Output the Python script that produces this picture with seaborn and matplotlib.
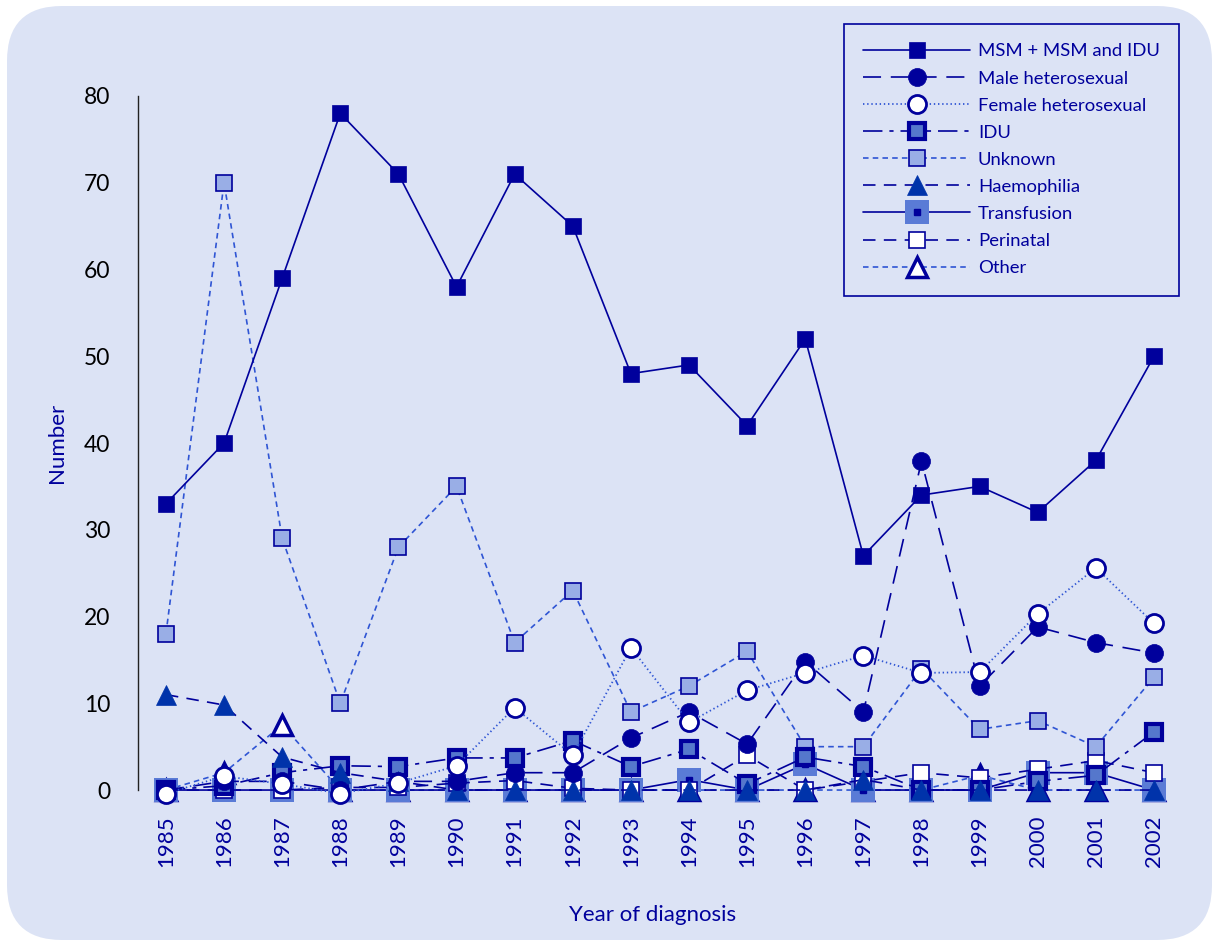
import numpy as np
import pandas as pd
import matplotlib
matplotlib.use('Agg')
import matplotlib.pyplot as plt
from matplotlib.patches import FancyBboxPatch
from matplotlib.transforms import IdentityTransform
from matplotlib.legend_handler import HandlerTuple
import seaborn as sns

years = list(range(1985, 2003))
msm = [33, 40, 59, 78, 71, 58, 71, 65, 48, 49, 42, 52, 27, 34, 35, 32, 38, 50]
male_het = [0, 1, 1, 0, 1, 1, 2, 2, 6, 9, 5.3, 14.8, 9, 37.9, 12, 18.8, 17, 15.8]
female_het = [-0.4, 1.6, 0.7, -0.4, 0.8, 2.8, 9.5, 4, 16.4, 7.8, 11.5, 13.5, 15.5, 13.5, 13.6, 20.3, 25.6, 19.2]
idu = [0, 0.5, 2, 2.8, 2.7, 3.7, 3.7, 5.7, 2.7, 4.7, 0.7, 3.8, 2.7, 0, 0, 1, 1.7, 6.7]
unknown = [18, 70, 29, 10, 28, 35, 17, 23, 9, 12, 16, 5, 5, 14, 7, 8, 5, 13]
haemophilia = [11, 9.8, 3.8, 2, 1, 0, 0, 0, 0, 0, 0, 0, 1.2, 0, 0, 0, 0, 0]
transfusion = [0, 0, 0, 0, 0, 0, 0, 0, 0, 1.2, 0, 3, 0, 0, 0, 2, 2, 0]
perinatal = [0, 0, 0, 0.3, 0.3, 0.8, 1.1, 0.2, 0, 0, 4, 0, 1, 2, 1.4, 2.4, 3.4, 2]
other = [0, 2, 7.5, 0, 0, 0, 0, 0, 0, 0, 0, 0, 0, 0, 1.7, 0, 0, 0]

navy = '#00009c'
blue = '#2f55d4'
bg = '#dce3f5'

sns.set_style('white')
plt.rcParams['font.family'] = ['Lato', 'DejaVu Sans']
plt.rcParams['lines.scale_dashes'] = False

fig = plt.figure(figsize=(12.14, 9.43), dpi=100)
fig.patch.set_facecolor('white')
# rounded panel behind everything, in pixel units
fig.add_artist(FancyBboxPatch((7, 3), 1205, 934, boxstyle='round,pad=0,rounding_size=55',
                              transform=IdentityTransform(), facecolor=bg, edgecolor='none', zorder=-10))
ax = fig.add_axes([0.1137, 0.1622, 0.8608, 0.736])
ax.set_facecolor('none')

def draw(vals, z, **kw):
    sns.lineplot(x=years, y=vals, ax=ax, errorbar=None, zorder=z, **kw)
    ln = ax.lines[-1]
    ln.set_clip_on(False)
    return ln

h_other = draw(other, 2, color=blue, linewidth=1.2, linestyle=(0, (4, 3)), marker='^', markersize=14,
               markerfacecolor='white', markeredgecolor=navy, markeredgewidth=2.5)
h_tr = draw(transfusion, 3, color=navy, linewidth=1.2, linestyle='-', marker='s', markersize=17,
            markerfacecolor='#5a7bd6', markeredgecolor='#5a7bd6', markeredgewidth=0)
h_tr2, = ax.plot(years, transfusion, linestyle='none', marker='s', markersize=5, color=navy, zorder=3.1, clip_on=False)
h_per = draw(perinatal, 4, color=navy, linewidth=1.2, linestyle=(0, (9, 6)), marker='s', markersize=12,
             markerfacecolor='white', markeredgecolor=navy, markeredgewidth=1.2)
h_unk = draw(unknown, 5, color=blue, linewidth=1.2, linestyle=(0, (4, 3)), marker='s', markersize=12,
             markerfacecolor='#99aee6', markeredgecolor=navy, markeredgewidth=1.2)
h_idu = draw(idu, 6, color=navy, linewidth=1.2, linestyle=(0, (14, 5, 3, 5)), marker='s', markersize=12,
             markerfacecolor='#5577cc', markeredgecolor=navy, markeredgewidth=3)
h_msm = draw(msm, 7, color=navy, linewidth=1.2, linestyle='-', marker='s', markersize=12,
             markerfacecolor=navy, markeredgecolor=navy, markeredgewidth=0.5)
h_hae = draw(haemophilia, 8, color=navy, linewidth=1.2, linestyle=(0, (9, 6)), marker='^', markersize=15,
             markerfacecolor='#0033aa', markeredgecolor='#0033aa', markeredgewidth=0.5)
h_male = draw(male_het, 9, color=navy, linewidth=1.2, linestyle=(0, (13, 7)), marker='o', markersize=13,
              markerfacecolor=navy, markeredgecolor=navy, markeredgewidth=0.5)
h_fem = draw(female_het, 10, color=blue, linewidth=1.3, linestyle=(0, (1, 2)), marker='o', markersize=13,
             markerfacecolor='white', markeredgecolor=navy, markeredgewidth=2)

ax.set_xlim(1984.52, 2002.5)
ax.set_ylim(0, 80)
for s in ['top', 'right', 'bottom']:
    ax.spines[s].set_visible(False)
ax.spines['left'].set_color('#222222')
ax.spines['left'].set_linewidth(1)
ax.set_yticks(range(0, 81, 10))
ax.tick_params(axis='y', direction='in', length=12, width=1, pad=20, labelsize=16.5, colors='#222222', labelcolor='black')
ax.set_xticks(years)
ax.set_xticklabels([str(y) for y in years], rotation=90)
ax.tick_params(axis='x', length=0, pad=18, labelsize=16, labelcolor=navy)
ax.set_xlabel('Year of diagnosis', fontsize=16, color=navy)
ax.set_ylabel('Number', fontsize=16, color=navy)
ax.xaxis.set_label_coords(0.492, -0.165)
ax.yaxis.set_label_coords(-0.068, 0.5)

handles = [h_msm, h_male, h_fem, h_idu, h_unk, h_hae, (h_tr, h_tr2), h_per, h_other]
labels = ['MSM + MSM and IDU', 'Male heterosexual', 'Female heterosexual', 'IDU', 'Unknown',
          'Haemophilia', 'Transfusion', 'Perinatal', 'Other']
leg = ax.legend(handles, labels, loc='upper right', bbox_to_anchor=(0.9712, 0.9745),
                bbox_transform=fig.transFigure, borderaxespad=0, fontsize=13.3, handlelength=5.8,
                handletextpad=0.4, labelspacing=0.6, borderpad=1.05, fancybox=False, framealpha=1,
                facecolor=bg, edgecolor=navy, handler_map={tuple: HandlerTuple(ndivide=1)})
leg.get_frame().set_linewidth(1.2)
for t in leg.get_texts():
    t.set_color(navy)

fig.savefig('out.png', dpi=100, facecolor='white')
